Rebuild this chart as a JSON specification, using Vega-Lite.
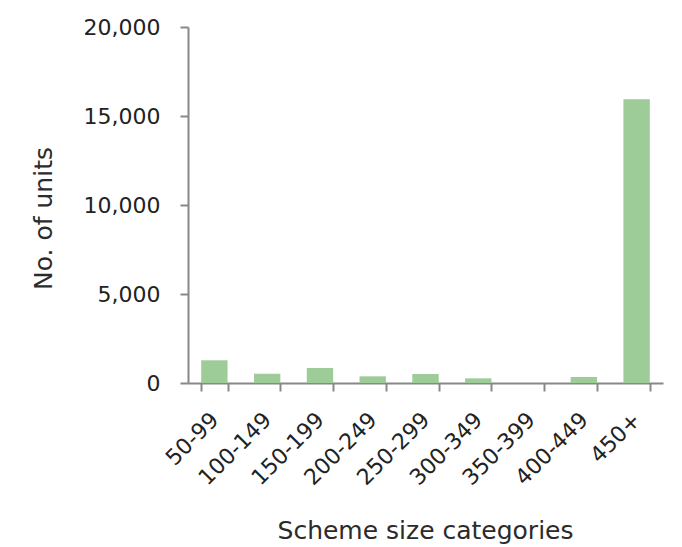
{
  "$schema": "https://vega.github.io/schema/vega-lite/v6.json",
  "autosize": "none",
  "width": 475,
  "height": 356,
  "padding": {"left": 188, "top": 27, "right": 19, "bottom": 164},
  "background": "white",
  "config": {
    "view": {"stroke": null},
    "font": "DejaVu Sans"
  },
  "data": {
    "values": [
      {"category": "50-99", "units": 1275},
      {"category": "100-149", "units": 525},
      {"category": "150-199", "units": 843},
      {"category": "200-249", "units": 375},
      {"category": "250-299", "units": 505},
      {"category": "300-349", "units": 262},
      {"category": "350-399", "units": 0},
      {"category": "400-449", "units": 337},
      {"category": "450+", "units": 15940}
    ]
  },
  "mark": {"type": "bar", "color": "#9DCC98"},
  "encoding": {
    "x": {
      "field": "category",
      "type": "nominal",
      "sort": null,
      "scale": {"paddingInner": 0.5, "paddingOuter": 0.25},
      "axis": {
        "title": "Scheme size categories",
        "titleFont": "DejaVu Sans",
        "titleFontSize": 25,
        "titleFontWeight": "normal",
        "titleColor": "#2b2b2b",
        "titleX": 237,
        "titleY": 147,
        "titleBaseline": "middle",
        "titleAlign": "center",
        "labelAngle": -45,
        "labelAlign": "right",
        "labelBaseline": "middle",
        "labelFontSize": 22,
        "labelColor": "#222222",
        "labelPadding": 25,
        "tickBand": "extent",
        "tickSize": 8,
        "tickColor": "#888888",
        "tickWidth": 2,
        "domainColor": "#888888",
        "domainWidth": 2,
        "grid": false
      }
    },
    "y": {
      "field": "units",
      "type": "quantitative",
      "scale": {"domain": [0, 20000], "nice": false},
      "axis": {
        "title": "No. of units",
        "titleFont": "DejaVu Sans",
        "titleFontSize": 25,
        "titleFontWeight": "normal",
        "titleColor": "#2b2b2b",
        "titleX": -145,
        "titleY": 191,
        "titleAngle": -90,
        "titleBaseline": "middle",
        "titleAlign": "center",
        "values": [0, 5000, 10000, 15000, 20000],
        "format": ",.0f",
        "labelFontSize": 22,
        "labelColor": "#222222",
        "labelPadding": 20,
        "tickSize": 8,
        "tickColor": "#888888",
        "tickWidth": 2,
        "domainColor": "#888888",
        "domainWidth": 2,
        "grid": false
      }
    }
  }
}
